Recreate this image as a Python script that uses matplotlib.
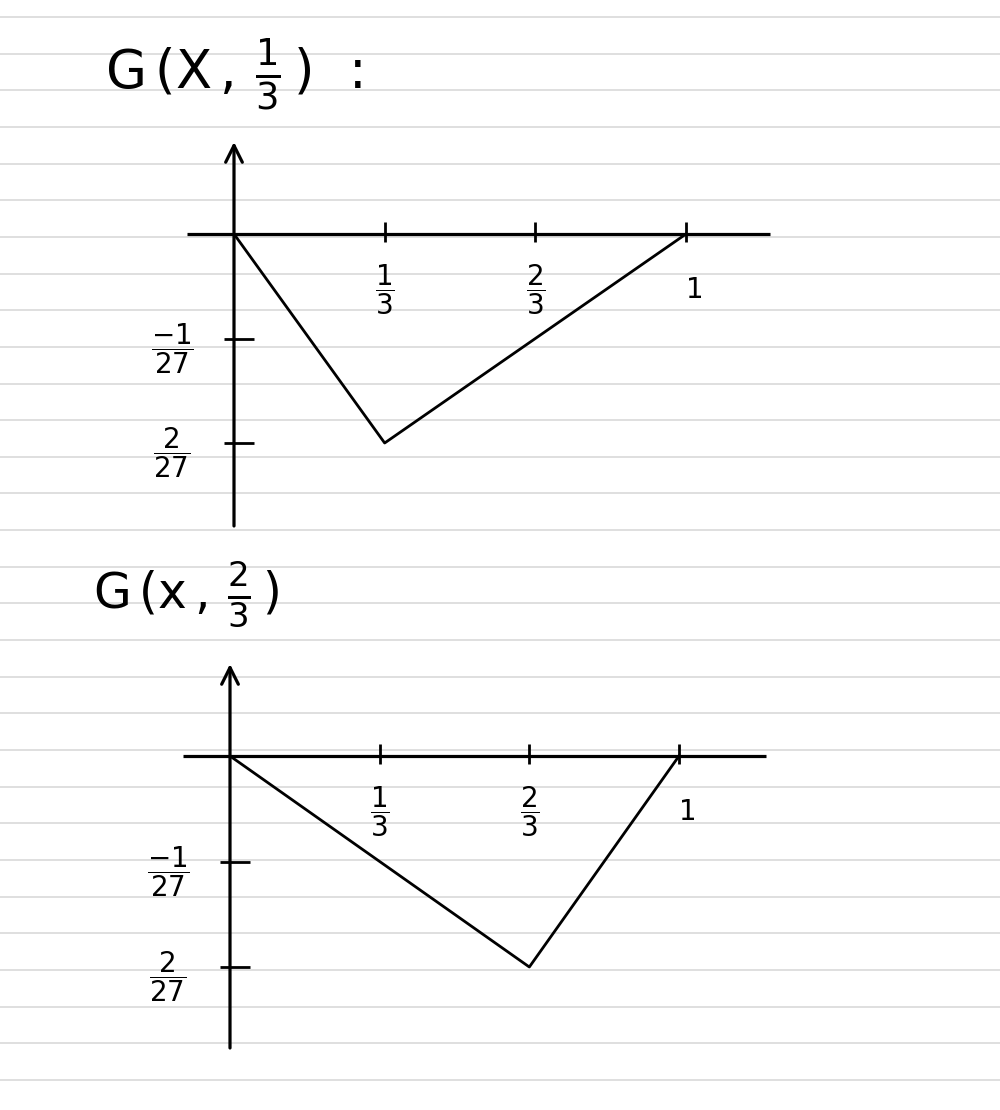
import numpy as np
import matplotlib.pyplot as plt

# Werte der Greenschen Funktion G(x, s)
x_s13 = [0, 1/3, 1]
g_s13 = [0, -2/27, 0]
x_s23 = [0, 2/3, 1]
g_s23 = [0, -2/27, 0]

x_ticks = [1/3, 2/3, 1]
x_labels = [r'$\dfrac{1}{3}$', r'$\dfrac{2}{3}$', '1']
y_ticks = [-1/27, -2/27]
y_labels = [r'$\dfrac{-1}{27}$', r'$\dfrac{2}{27}$']

titles = [r'$\mathrm{G\,(X\,,\,}\frac{1}{3}\,\mathrm{)}$  :',
          r'$\mathrm{G\,(x\,,\,}\frac{2}{3}\,\mathrm{)}$']

W, H = 1000, 1110
fig = plt.figure(figsize=(W / 100, H / 100), dpi=100)
plt.rcParams['mathtext.fontset'] = 'dejavusans'

# Hintergrund: liniertes Papier
bg = fig.add_axes([0, 0, 1, 1])
bg.set_xlim(0, W)
bg.set_ylim(H, 0)
bg.axis('off')
for yy in np.arange(17, H, 36.65):
    bg.axhline(yy, color='#dcdcdc', lw=1.3, zorder=0)

bg.text(105, 75, titles[0], fontsize=38, va='center', ha='left')
bg.text(93, 595, titles[1], fontsize=35, va='center', ha='left')


def graph(box, origin, sx, sy, xs, ys):
    # box = (links, oben, rechts, unten) in Pixel
    l, t, r, b = box
    ox, oy = origin
    ax = fig.add_axes([l / W, 1 - b / H, (r - l) / W, (b - t) / H])
    ax.set_xlim((l - ox) / sx, (r - ox) / sx)
    ax.set_ylim((oy - b) / sy, (oy - t) / sy)
    ax.axis('off')
    ax.patch.set_alpha(0)

    k = 'black'
    # x-Achse
    ax.plot([-47 / sx, 536 / sx], [0, 0], color=k, lw=2.3, solid_capstyle='butt')
    # y-Achse mit Pfeil
    ax.annotate('', xy=(0, 92 / sy), xytext=(0, -292 / sy),
                arrowprops=dict(arrowstyle='->', lw=2.3, color=k,
                                mutation_scale=30, shrinkA=0, shrinkB=0))
    # Kurve
    ax.plot(xs, ys, color=k, lw=2)

    # Markierungen
    ax.vlines(x_ticks, -8 / sy, 12 / sy, color=k, lw=2)
    ax.hlines(y_ticks, -10 / sx, 20 / sx, color=k, lw=2)
    for xv, lab in zip(x_ticks, x_labels):
        dx = 9 if lab == '1' else 0
        ax.annotate(lab, xy=(xv, 0), xytext=(dx, -56), textcoords='offset pixels',
                    ha='center', va='center', fontsize=20)
    for yv, lab in zip(y_ticks, y_labels):
        ax.annotate(lab, xy=(0, yv), xytext=(-62, -10), textcoords='offset pixels',
                    ha='center', va='center', fontsize=20)
    return ax


graph((130, 120, 800, 540), (234, 234), 452, 2821.5, x_s13, g_s13)
graph((130, 640, 800, 1060), (230, 756), 449, 2848.5, x_s23, g_s23)

fig.savefig('out.png', dpi=100, facecolor='white')
